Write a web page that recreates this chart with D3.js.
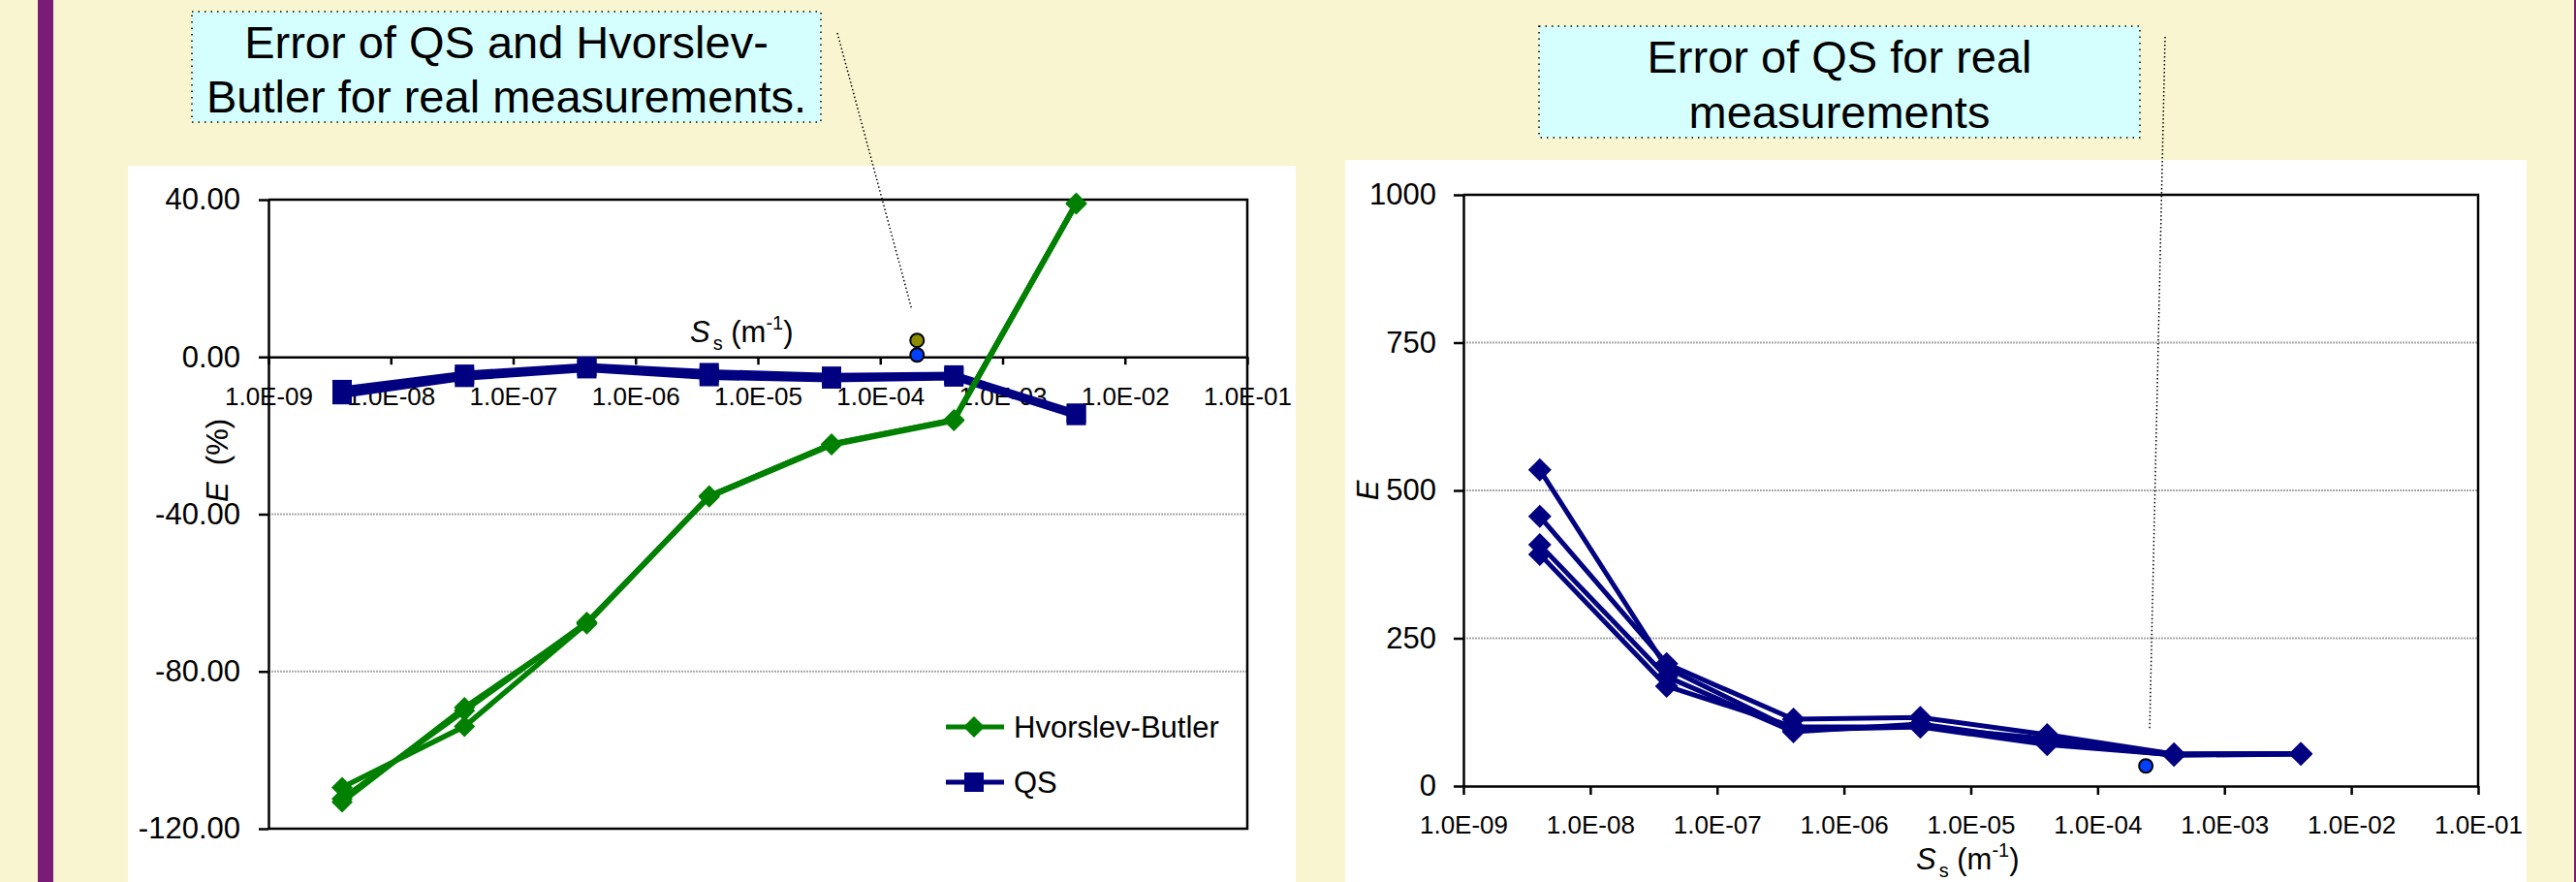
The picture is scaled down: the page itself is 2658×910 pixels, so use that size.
<!DOCTYPE html>
<html>
<head>
<meta charset="utf-8">
<script src="https://cdnjs.cloudflare.com/ajax/libs/d3/7.8.5/d3.min.js"></script>
<style>
  html, body { margin: 0; padding: 0; background: #f8f5d0; }
  svg { display: block; }
  text { font-family: "Liberation Sans", Arial, sans-serif; fill: #000; }
</style>
</head>
<body>
<div id="slide"></div>
<script>
// storativity values S_s (m^-1) used for every series
const ssValues = [4e-9, 4e-8, 4e-7, 4e-6, 4e-5, 4e-4, 4e-3];

// left chart: error E (%) of Hvorslev-Butler (three runs) and QS (two runs)
const hvorslevButlerA = [-109.5, -94.0, -67.7, -35.4, -22.2, -16.0, 39.1];
const hvorslevButlerB = [-113.2, -89.2, -67.9, -35.4, -22.2, -16.0, 39.1];
const hvorslevButlerC = [-112.4, -90.0, -67.5, -35.6, -22.4, -16.2, 38.9];
const qsErrorA = [-8.3, -4.4, -2.4, -4.0, -4.9, -4.6, -14.3];
const qsErrorB = [-9.6, -5.2, -3.0, -5.0, -5.6, -5.1, -14.9];

// real measurement on the left chart
const measuredSsLeft = 2.0e-4;
const measuredHB = 4.2;
const measuredQS = 0.5;

// right chart: error E of QS, four cases
const qsRealE1 = [535, 200, 95, 100, 80, 54, 55];
const qsRealE2 = [456, 207, 113, 116, 87, 54, 55];
const qsRealE3 = [408, 185, 92, 105, 75, 52, 54];
const qsRealE4 = [392, 169, 100, 100, 70, 53, 54];

// real measurement on the right chart
const measuredSsRight = 2.4e-4;
const measuredQSRight = 34;

// ticks
const xTicks = [1e-9, 1e-8, 1e-7, 1e-6, 1e-5, 1e-4, 1e-3, 1e-2, 1e-1];
const leftYTicks = [40, 0, -40, -80, -120];
const leftGrid = [-40, -80];
const rightYTicks = [1000, 750, 500, 250, 0];
const rightGrid = [750, 500, 250];

const legendLabels = ['Hvorslev-Butler', 'QS'];
const leftTitle = ['Error of QS and Hvorslev-', 'Butler for real measurements.'];
const rightTitle = ['Error of QS for real', 'measurements'];

const W = 2658, H = 910;
const GREEN = '#008000', NAVY = '#000080';
const FONT = '"Liberation Sans", Arial, sans-serif';

const svg = d3.select('#slide').append('svg')
    .attr('width', W)
    .attr('height', H);

svg.append('rect').attr('width', W).attr('height', H).attr('fill', '#f8f5d0');
svg.append('rect').attr('x', 39).attr('y', 0).attr('width', 16).attr('height', H).attr('fill', '#7b1b78');
svg.append('rect').attr('x', W - 2).attr('y', 0).attr('width', 2).attr('height', H).attr('fill', '#7b1b78');

const diamond = r => `M0,${-r}L${r},0L0,${r}L${-r},0Z`;
const square = () => 'M-10,-10H10V10H-10Z';

const expLabel = d => '1.0E-' + String(-Math.round(Math.log10(d))).padStart(2, '0');

function styleAxis(g, size) {
    g.attr('font-family', FONT).attr('font-size', size);
    g.select('.domain').attr('stroke', '#000').attr('stroke-width', 2.5);
    g.selectAll('.tick line').attr('stroke', '#000').attr('stroke-width', 2.5);
    g.selectAll('.tick text').attr('fill', '#000');
}

function titleBox(x, y, w, h, lines, baselines) {
    svg.append('rect')
        .attr('x', x).attr('y', y).attr('width', w).attr('height', h)
        .attr('fill', '#d5ffff')
        .attr('stroke', '#000')
        .attr('stroke-width', 1.5)
        .attr('stroke-dasharray', '1.5,5');
    lines.forEach((t, i) => {
        svg.append('text')
            .attr('x', x + w / 2)
            .attr('y', baselines[i])
            .attr('text-anchor', 'middle')
            .attr('font-size', 47)
            .text(t);
    });
}

function ssLabel(x, y) {
    const t = svg.append('text').attr('x', x).attr('y', y).attr('font-size', 31);
    t.append('tspan').attr('font-style', 'italic').text('S');
    t.append('tspan').attr('font-size', 20).attr('dy', 8).attr('dx', 3).text('s');
    t.append('tspan').attr('dy', -8).text(' (m');
    t.append('tspan').attr('font-size', 20).attr('dy', -13).text('-1');
    t.append('tspan').attr('dy', 13).text(')');
}

function drawSeries(g, x, y, values, color, width, marker) {
    const pts = ssValues.map((s, i) => [x(s), y(values[i])]);
    g.append('path')
        .attr('d', d3.line()(pts))
        .attr('fill', 'none')
        .attr('stroke', color)
        .attr('stroke-width', width)
        .attr('stroke-linejoin', 'round');
    g.selectAll(null)
        .data(pts)
        .join('path')
        .attr('transform', d => `translate(${d[0]},${d[1]})`)
        .attr('d', marker)
        .attr('fill', color);
}

// ---------------- left chart ----------------
{
    svg.append('rect').attr('x', 132).attr('y', 171).attr('width', 1205).attr('height', H - 171).attr('fill', '#fff');

    const x = d3.scaleLog().domain([1e-9, 1e-1]).range([277, 1287]);
    const y = d3.scaleLinear().domain([-120, 40]).range([855, 206]);
    const g = svg.append('g');

    g.selectAll('.grid')
        .data(leftGrid)
        .join('line')
        .attr('x1', x.range()[0]).attr('x2', x.range()[1])
        .attr('y1', d => y(d)).attr('y2', d => y(d))
        .attr('stroke', '#a8a8a8')
        .attr('stroke-width', 2)
        .attr('stroke-dasharray', '2,1');

    // frame: top, right, bottom
    g.append('path')
        .attr('d', `M${x.range()[0]},${y(40)}H${x.range()[1]}V${y(-120)}H${x.range()[0]}`)
        .attr('fill', 'none').attr('stroke', '#000').attr('stroke-width', 2.5);

    g.append('g')
        .attr('transform', `translate(0,${y(0)})`)
        .call(d3.axisBottom(x).tickValues(xTicks).tickFormat(expLabel).tickSize(8).tickSizeOuter(0).tickPadding(23))
        .call(ax => styleAxis(ax, 26));

    g.append('g')
        .attr('transform', `translate(${x.range()[0]},0)`)
        .call(d3.axisLeft(y).tickValues(leftYTicks).tickFormat(d => d.toFixed(2)).tickSize(10).tickSizeOuter(0).tickPadding(19))
        .call(ax => styleAxis(ax, 31));

    ssLabel(712, 353);

    const yt = svg.append('text')
        .attr('transform', 'translate(235,475) rotate(-90)')
        .attr('text-anchor', 'middle')
        .attr('font-size', 31);
    yt.append('tspan').attr('font-style', 'italic').text('E');
    yt.append('tspan').text('\u00a0\u00a0(%)');

    drawSeries(g, x, y, qsErrorB, NAVY, 7, square);
    drawSeries(g, x, y, qsErrorA, NAVY, 7, square);
    drawSeries(g, x, y, hvorslevButlerA, GREEN, 5.5, () => diamond(11));
    drawSeries(g, x, y, hvorslevButlerB, GREEN, 5.5, () => diamond(11));
    drawSeries(g, x, y, hvorslevButlerC, GREEN, 5.5, () => diamond(11));

    g.append('circle')
        .attr('cx', x(measuredSsLeft)).attr('cy', y(measuredHB)).attr('r', 7)
        .attr('fill', '#8c8c00').attr('stroke', '#000').attr('stroke-width', 2);
    g.append('circle')
        .attr('cx', x(measuredSsLeft)).attr('cy', y(measuredQS)).attr('r', 7)
        .attr('fill', '#0040ff').attr('stroke', '#000').attr('stroke-width', 2);

    // legend
    const leg = g.append('g');
    [[GREEN, () => diamond(11)], [NAVY, square]].forEach(([c, m], i) => {
        const ly = 750 + i * 57;
        leg.append('line').attr('x1', 976).attr('x2', 1036).attr('y1', ly).attr('y2', ly)
            .attr('stroke', c).attr('stroke-width', 5);
        leg.append('path').attr('transform', `translate(1005,${ly})`).attr('d', m()).attr('fill', c);
        leg.append('text').attr('x', 1046).attr('y', ly).attr('dy', '0.35em')
            .attr('font-size', 31).text(legendLabels[i]);
    });

    titleBox(198, 12, 649, 114, leftTitle, [60, 116]);

    svg.append('line')
        .attr('x1', 864).attr('y1', 34)
        .attr('x2', x(measuredSsLeft) - 6).attr('y2', y(measuredHB) - 34)
        .attr('stroke', '#000').attr('stroke-width', 1.5).attr('stroke-dasharray', '1.5,2.5');
}

// ---------------- right chart ----------------
{
    svg.append('rect').attr('x', 1388).attr('y', 165).attr('width', 1219).attr('height', H - 165).attr('fill', '#fff');

    const x = d3.scaleLog().domain([1e-9, 1e-1]).range([1510, 2557]);
    const y = d3.scaleLinear().domain([0, 1000]).range([811, 201]);
    const g = svg.append('g');

    g.selectAll('.grid')
        .data(rightGrid)
        .join('line')
        .attr('x1', x.range()[0]).attr('x2', x.range()[1])
        .attr('y1', d => y(d)).attr('y2', d => y(d))
        .attr('stroke', '#a8a8a8')
        .attr('stroke-width', 2)
        .attr('stroke-dasharray', '2,1');

    g.append('path')
        .attr('d', `M${x.range()[0]},${y(1000)}H${x.range()[1]}V${y(0)}`)
        .attr('fill', 'none').attr('stroke', '#000').attr('stroke-width', 2.5);

    g.append('g')
        .attr('transform', `translate(0,${y(0)})`)
        .call(d3.axisBottom(x).tickValues(xTicks).tickFormat(expLabel).tickSize(9).tickSizeOuter(0).tickPadding(22))
        .call(ax => styleAxis(ax, 26));

    g.append('g')
        .attr('transform', `translate(${x.range()[0]},0)`)
        .call(d3.axisLeft(y).tickValues(rightYTicks).tickFormat(d3.format('d')).tickSize(10).tickSizeOuter(0).tickPadding(18))
        .call(ax => styleAxis(ax, 31));

    ssLabel(1977, 897);

    svg.append('text')
        .attr('transform', 'translate(1422,506) rotate(-90)')
        .attr('text-anchor', 'middle')
        .attr('font-size', 31)
        .attr('font-style', 'italic')
        .text('E');

    [qsRealE1, qsRealE2, qsRealE3, qsRealE4].forEach(s =>
        drawSeries(g, x, y, s, NAVY, 5, () => diamond(12)));

    g.append('circle')
        .attr('cx', x(measuredSsRight)).attr('cy', y(measuredQSRight)).attr('r', 7)
        .attr('fill', '#0040ff').attr('stroke', '#000').attr('stroke-width', 2);

    titleBox(1588, 27, 620, 115, rightTitle, [75, 132]);

    svg.append('line')
        .attr('x1', 2234).attr('y1', 38)
        .attr('x2', x(measuredSsRight) + 4).attr('y2', y(measuredQSRight) - 39)
        .attr('stroke', '#000').attr('stroke-width', 1.5).attr('stroke-dasharray', '1.5,2.5');
}
</script>
</body>
</html>
